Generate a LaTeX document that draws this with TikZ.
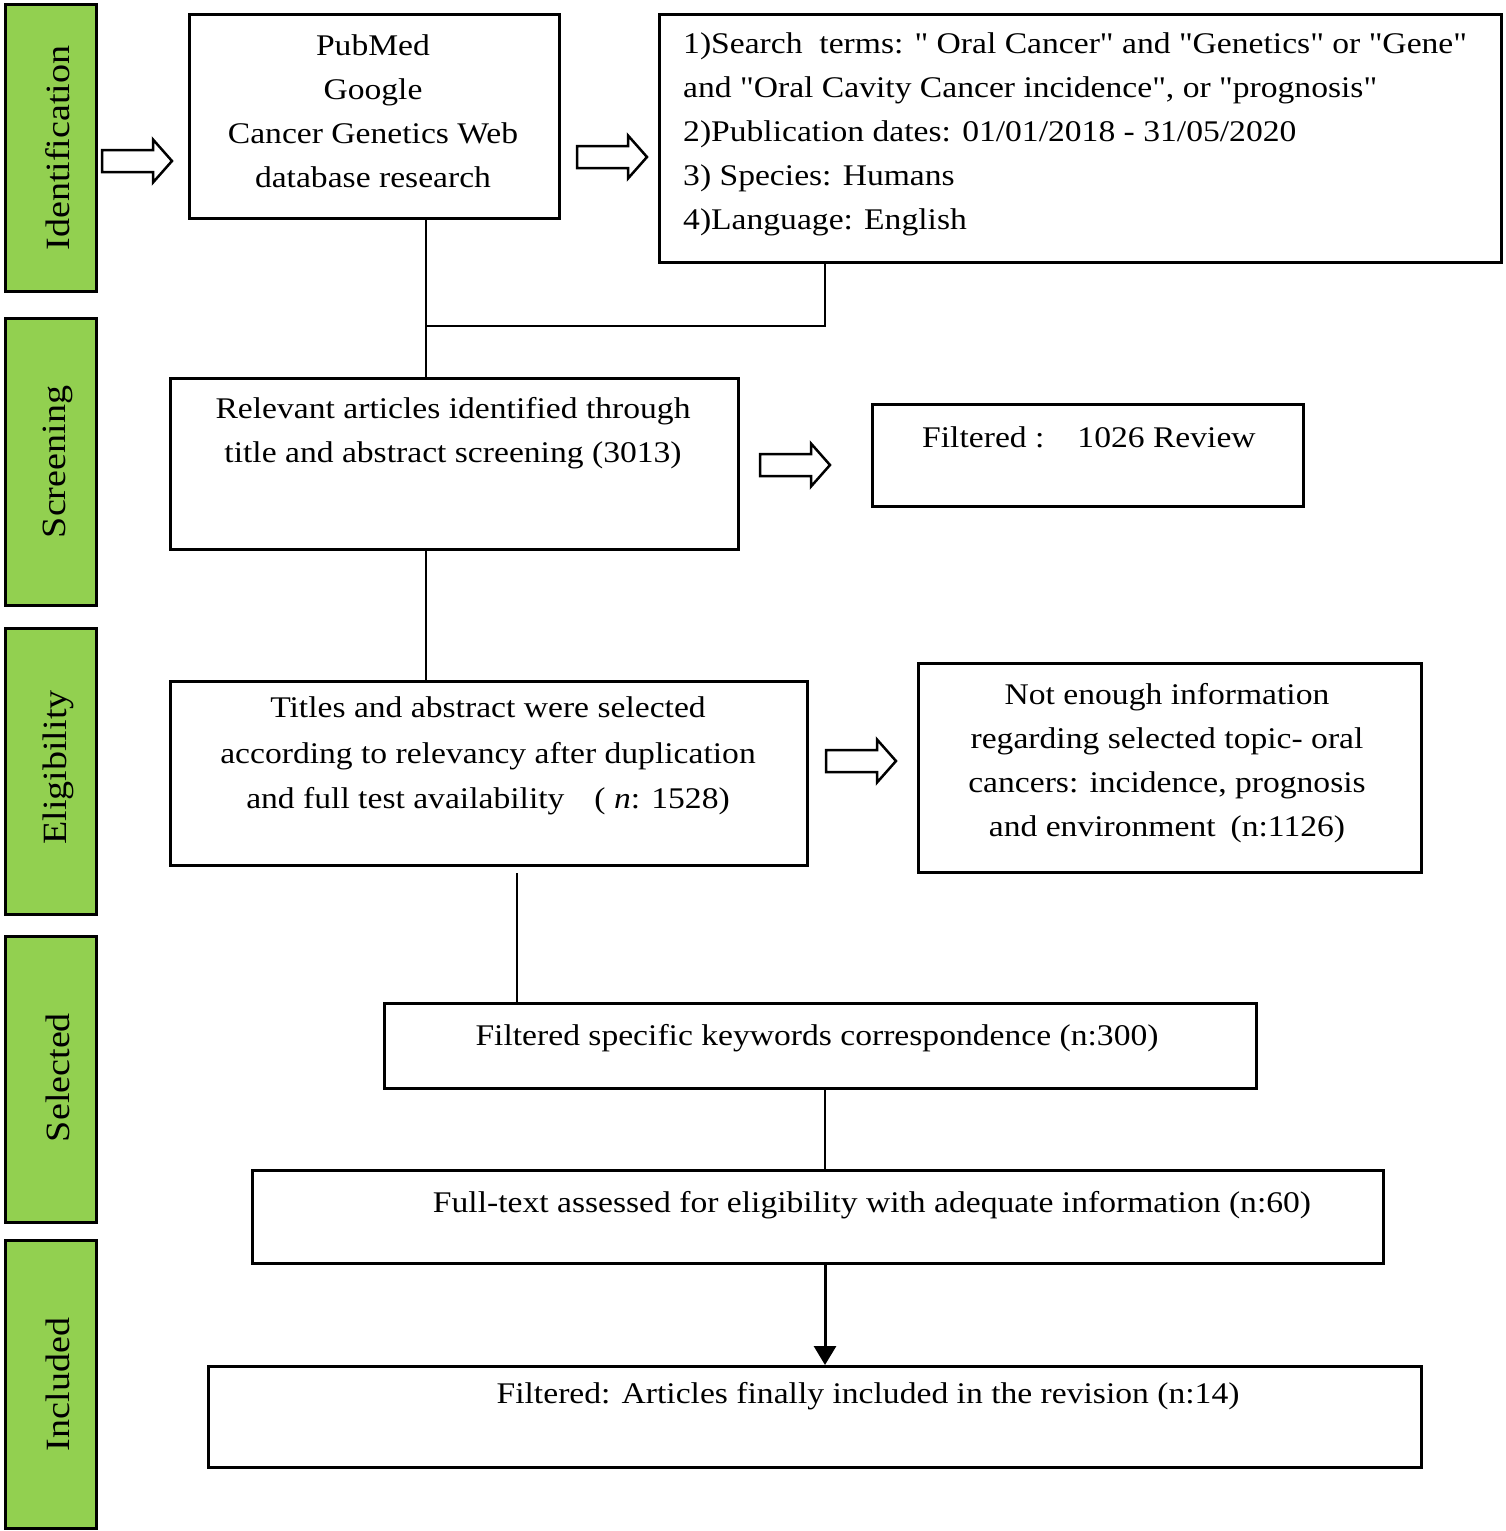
\documentclass[tikz,border=0pt]{standalone}
\usepackage{fontspec}
\setmainfont{Liberation Serif}[FakeStretch=1.12, Ligatures=TeXOff]
\usetikzlibrary{arrows.meta,calc}
\definecolor{barg}{HTML}{92D050}
\begin{document}
\begin{tikzpicture}[x=1pt,y=-1pt,
  box/.style={draw, line width=2.5pt, inner sep=0pt, anchor=north west},
  phase/.style={draw, line width=3pt, fill=barg, inner sep=0pt, anchor=north west, minimum width=91pt},
  txt/.style={inner sep=0pt, align=center, font=\fontsize{30}{44}\selectfont},
  side/.style={inner sep=0pt, rotate=90, font=\fontsize{34}{40}\selectfont},
  conn/.style={line width=2.8pt},
  hollow/.pic={\draw[line width=2.5pt, line join=miter] (0,-11) -- (51,-11) -- (51,-21.5) -- (70,0) -- (51,21.5) -- (51,11) -- (0,11) -- cycle;}
]
\useasboundingbox (0,0) rectangle (1505,1531);

% phase bars
\node[phase, minimum height=287pt] (b1) at (4,3) {};
\node[phase, minimum height=287pt] (b2) at (4,317) {};
\node[phase, minimum height=286pt] (b3) at (4,627) {};
\node[phase, minimum height=286pt] (b4) at (4,935) {};
\node[phase, minimum height=288pt] (b5) at (4,1239) {};
\node[side] (l1) at ($(b1.center)+(7,0)$) {Identification};
\node[side] (l2) at ($(b2.center)+(7,0)$) {Screening};
\node[side] (l3) at ($(b3.center)+(7,-4)$) {Eligibility};
\node[side] (l4) at ($(b4.center)+(7,-2)$) {Selected};
\node[side] (l5) at ($(b5.center)+(7,0)$) {Included};

% boxes
\node[box, minimum width=370pt, minimum height=204pt] (pub) at (188,13) {};
\node[box, minimum width=842pt, minimum height=248pt] (srch) at (658,13) {};
\node[box, minimum width=568pt, minimum height=171pt] (rel) at (169,377) {};
\node[box, minimum width=431pt, minimum height=102pt] (filt) at (871,403) {};
\node[box, minimum width=637pt, minimum height=184pt] (tit) at (169,680) {};
\node[box, minimum width=503pt, minimum height=209pt] (note) at (917,662) {};
\node[box, minimum width=872pt, minimum height=85pt] (spec) at (383,1002) {};
\node[box, minimum width=1131pt, minimum height=93pt] (full) at (251,1169) {};
\node[box, minimum width=1213pt, minimum height=101pt] (fin) at (207,1365) {};

% texts
\node[txt] (pubt) at (373,111) {PubMed\\Google\\Cancer Genetics Web\\database research};
\node[txt, align=left, anchor=west] (srcht) at (683,134) {1)Search\ \ terms: " Oral Cancer" and "Genetics" or "Gene"\\and "Oral Cavity Cancer incidence", or "prognosis"\\2)Publication dates: 01/01/2018 - 31/05/2020\\3) Species: Humans\\4)Language: English};
\node[txt] (relt) at (453,433) {Relevant articles identified through\\title and abstract screening (3013)};
\node[txt, anchor=west] (filtt) at (922,437) {Filtered :\hspace{1.1em}1026 Review};
\node[txt, font=\fontsize{30}{45.5}\selectfont] (titt) at (488,756) {Titles and abstract were selected\\according to relevancy after duplication\\and full test availability\hspace{1em}( \textit{n}: 1528)};
\node[txt] (notet) at (1167,763) {Not enough information\\regarding selected topic- oral\\cancers: incidence, prognosis\\and environment\hspace{0.5em}(n:1126)};
\node[txt] (spect) at (817,1038) {Filtered specific keywords correspondence (n:300)};
\node[txt] (fullt) at (872,1205) {Full-text assessed for eligibility with adequate information (n:60)};
\node[txt] (fint) at (868,1396) {Filtered: Articles finally included in the revision (n:14)};

% hollow arrows
\pic at (102,161) {hollow};
\pic at (577,157) {hollow};
\pic at (760,465) {hollow};
\pic at (826,761) {hollow};

% connectors
\coordinate (j1) at (426,326);
\coordinate (j2) at (825,326);
\coordinate (t1) at (517,873);
\coordinate (c2) at (825,1100);
\draw[conn] (pub.south -| j1) -- (rel.north -| j1);
\draw[conn] (srch.south -| j2) -- (j2) -- (j1);
\draw[conn] (rel.south -| j1) -- (tit.north -| j1);
\draw[conn] (t1) -- (t1 |- spec.north);
\draw[conn] (spec.south -| c2) -- (full.north -| c2);
\draw[line width=3pt, -{Triangle[length=19pt,width=22pt]}] (full.south -| c2) -- (fin.north -| c2);
\end{tikzpicture}
\end{document}
